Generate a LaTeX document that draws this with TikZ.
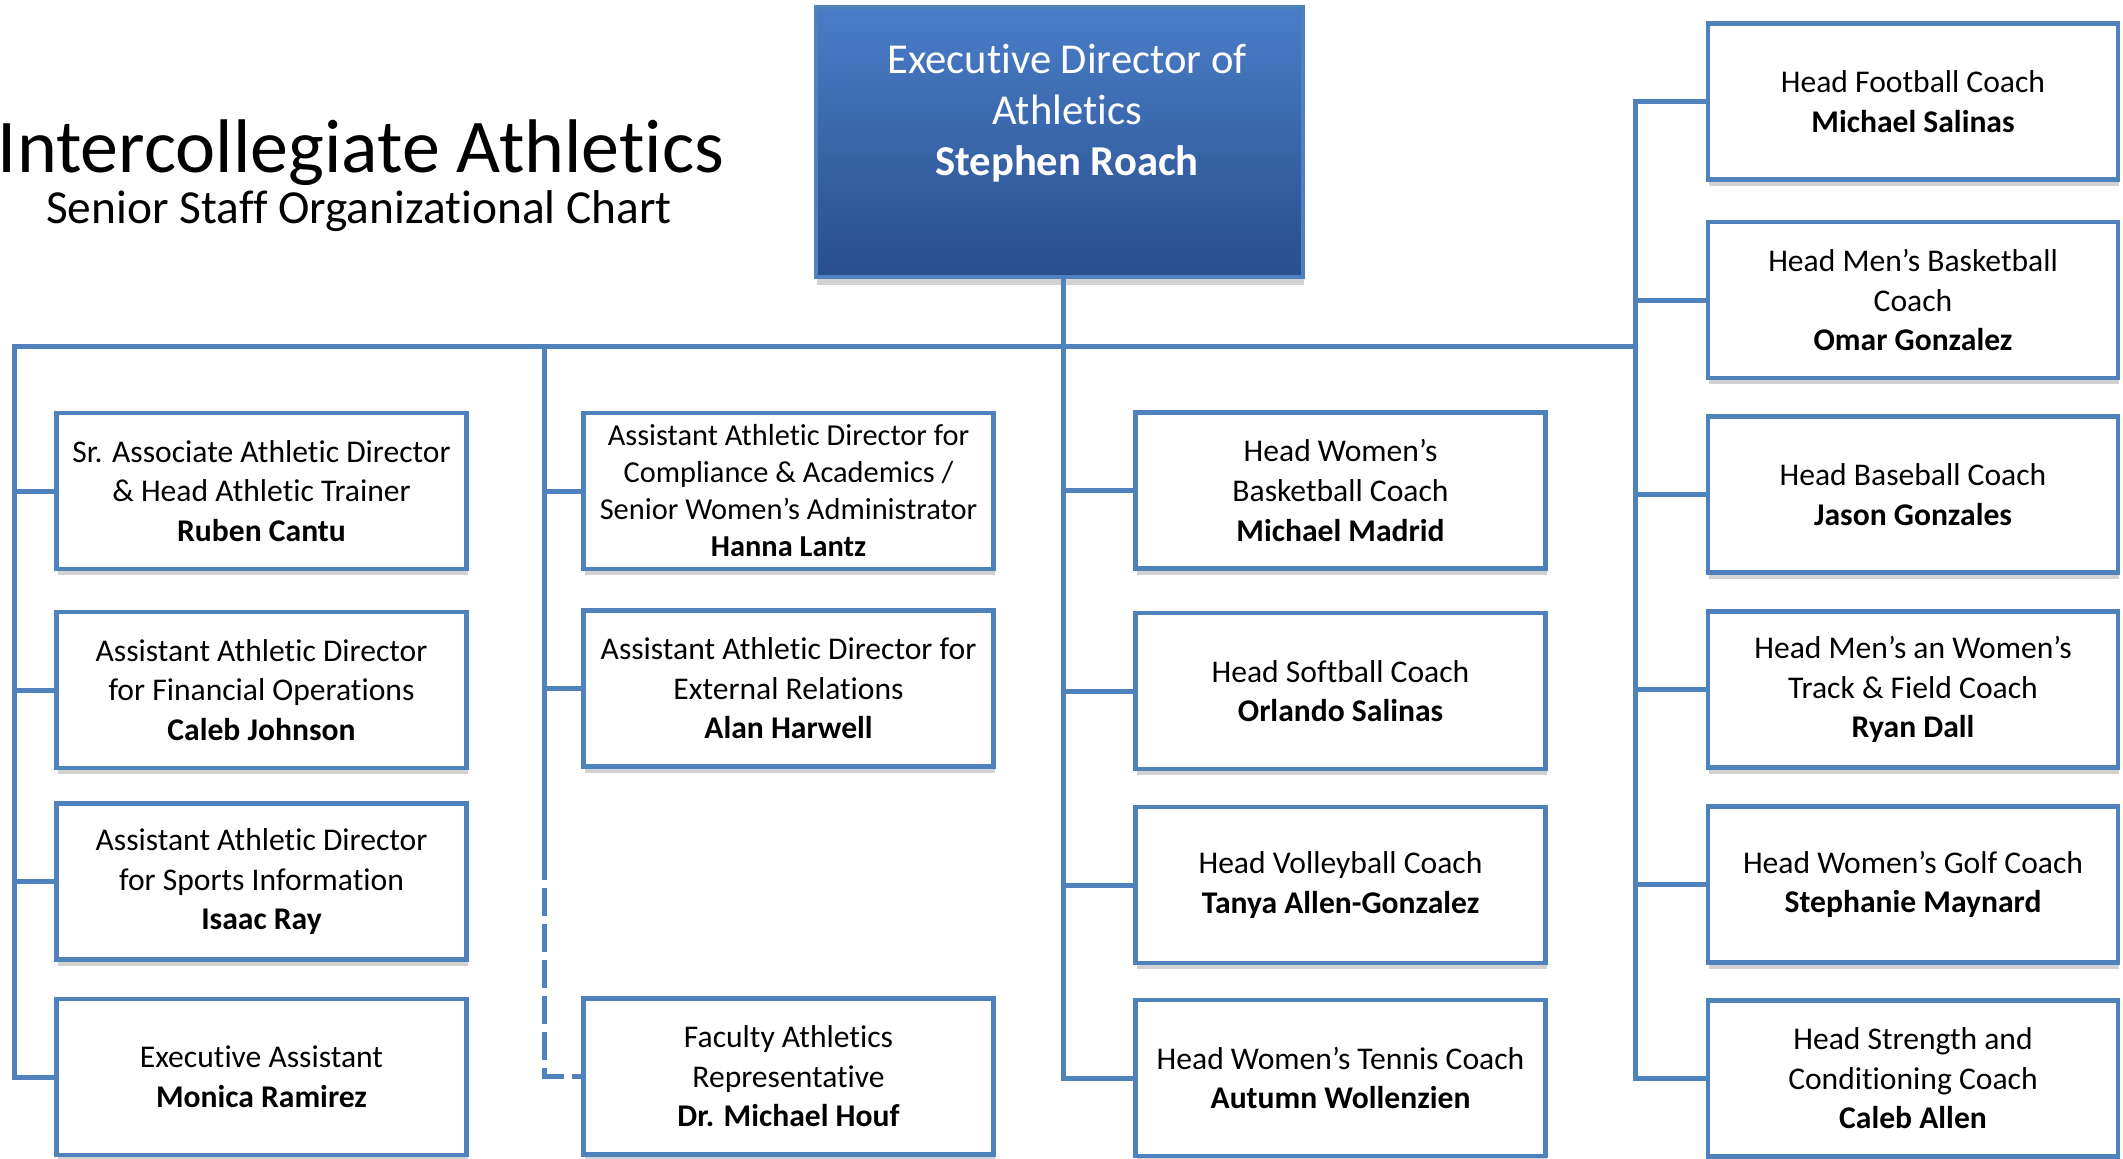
\documentclass[tikz,border=0pt]{standalone}
\usepackage{fontspec}
\setmainfont{Carlito}[Ligatures=NoCommon, Contextuals=NoAlternate]
\usetikzlibrary{shadows}
\definecolor{lineblue}{RGB}{79,129,189}
\definecolor{topblue}{RGB}{74,125,200}
\definecolor{botblue}{RGB}{40,78,140}
\definecolor{shadowgray}{RGB}{210,210,210}
\begin{document}
\begin{tikzpicture}[x=0.5pt,y=-0.5pt,
  orgbox/.style={draw=lineblue, line width=2.2pt, fill=white,
    minimum width=205pt, minimum height=78pt, inner sep=0pt, align=center,
    font=\fontsize{15.8}{19.8}\selectfont,
    drop shadow={shadow xshift=0.5pt, shadow yshift=-3pt, fill=shadowgray, opacity=1}},
  smallbox/.style={orgbox, font=\fontsize{15.2}{18.5}\selectfont},
  topbox/.style={draw=lineblue, line width=2.2pt, top color=topblue, bottom color=botblue,
    minimum width=243.5pt, minimum height=135pt, inner sep=0pt,
    drop shadow={shadow xshift=0.5pt, shadow yshift=-4pt, fill=shadowgray, opacity=1}},
  toptext/.style={text=white, align=center, font=\fontsize{21.3}{25.5}\selectfont},
  conn/.style={draw=lineblue, line width=2.5pt},
  dashconn/.style={conn, dash pattern=on 14pt off 4pt, dash phase=14pt}
]
\useasboundingbox (0,0) rectangle (2123,1158);

% titles
\node[anchor=base, font=\fontsize{38}{44}\selectfont] (title) at (361,172) {Intercollegiate Athletics};
\node[anchor=base, font=\fontsize{23.7}{28}\selectfont] (subtitle) at (359,223) {Senior Staff Organizational Chart};

% trunk coordinates
\coordinate (t1) at (14,346);
\coordinate (t2) at (544,346);
\coordinate (t2end) at (544,880);
\coordinate (t4) at (1635,346);

% top box
\node[topbox] (exec) at (1059.5,142) {};
\node[toptext] (exectext) at (1067,113) {Executive Director of\\Athletics\\\textbf{Stephen Roach}};
\coordinate (t3) at ([xshift=2pt]exec.south);

% column 1
\node[orgbox] (A1) at (261.5,491) {Sr. Associate Athletic Director\\\& Head Athletic Trainer\\\textbf{Ruben Cantu}};
\node[orgbox] (A2) at (261.5,690) {Assistant Athletic Director\\for Financial Operations\\\textbf{Caleb Johnson}};
\node[orgbox] (A3) at (261.5,881.5) {Assistant Athletic Director\\for Sports Information\\\textbf{Isaac Ray}};
\node[orgbox] (A4) at (261.5,1077) {Executive Assistant\\\textbf{Monica Ramirez}};

% column 2
\node[smallbox] (B1) at (788.5,491) {Assistant Athletic Director for\\Compliance \& Academics /\\Senior Women’s Administrator\\\textbf{Hanna Lantz}};
\node[orgbox] (B2) at (788.5,688.5) {Assistant Athletic Director for\\External Relations\\\textbf{Alan Harwell}};
\node[orgbox] (B3) at (788.5,1076.5) {Faculty Athletics\\Representative\\\textbf{Dr. Michael Houf}};

% column 3
\node[orgbox] (C1) at (1340.5,490.5) {Head Women’s\\Basketball Coach\\\textbf{Michael Madrid}};
\node[orgbox] (C2) at (1340.5,691) {Head Softball Coach\\\textbf{Orlando Salinas}};
\node[orgbox] (C3) at (1340.5,885) {Head Volleyball Coach\\\textbf{Tanya Allen-Gonzalez}};
\node[orgbox] (C4) at (1340.5,1078) {Head Women’s Tennis Coach\\\textbf{Autumn Wollenzien}};

% column 4
\node[orgbox] (D1) at (1913,101.5) {Head Football Coach\\\textbf{Michael Salinas}};
\node[orgbox] (D2) at (1913,300) {Head Men’s Basketball\\Coach\\\textbf{Omar Gonzalez}};
\node[orgbox] (D3) at (1913,494.5) {Head Baseball Coach\\\textbf{Jason Gonzales}};
\node[orgbox] (D4) at (1913,689.5) {Head Men’s an Women’s\\Track \& Field Coach\\\textbf{Ryan Dall}};
\node[orgbox] (D5) at (1913,884.5) {Head Women’s Golf Coach\\\textbf{Stephanie Maynard}};
\node[orgbox] (D6) at (1913,1078.5) {Head Strength and\\Conditioning Coach\\\textbf{Caleb Allen}};

% main horizontal and column 1 trunk
\draw[conn] (A4.west) -| (t1) -- (t4);
\draw[conn] (A1.west) -- (A1.west -| t1);
\draw[conn] (A2.west) -- (A2.west -| t1);
\draw[conn] (A3.west) -- (A3.west -| t1);

% column 2 trunk
\draw[conn] (t2) -- (t2end);
\draw[dashconn] (t2end) |- (B3.west);
\draw[conn] (B1.west) -- (B1.west -| t2);
\draw[conn] (B2.west) -- (B2.west -| t2);

% column 3 trunk from executive director
\draw[conn] (t3) |- (C4.west);
\draw[conn] (C1.west) -- (C1.west -| t3);
\draw[conn] (C2.west) -- (C2.west -| t3);
\draw[conn] (C3.west) -- (C3.west -| t3);

% column 4 trunk
\draw[conn] (D1.west) -| (t4) |- (D6.west);
\draw[conn] (D2.west) -- (D2.west -| t4);
\draw[conn] (D3.west) -- (D3.west -| t4);
\draw[conn] (D4.west) -- (D4.west -| t4);
\draw[conn] (D5.west) -- (D5.west -| t4);
\end{tikzpicture}
\end{document}
